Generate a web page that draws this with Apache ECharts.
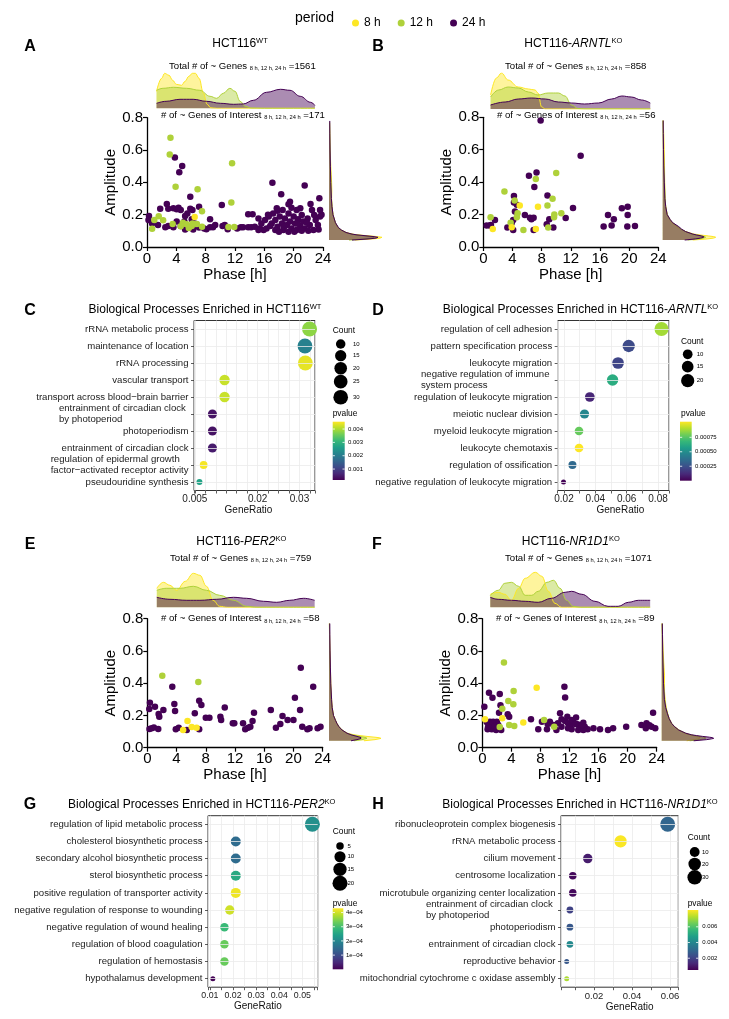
<!DOCTYPE html>
<html>
<head>
<meta charset="utf-8">
<title>Rhythmic genes in HCT116 clock knockouts</title>
<script src="https://cdn.jsdelivr.net/npm/echarts@6.0.0/dist/echarts.min.js"></script>
<style>
html,body{margin:0;padding:0;background:#fff;}
#chart{width:729px;height:1019px;}
</style>
</head>
<body>
<div id="chart"></div>
<script>
// ================= DATA =================
const periods = ['8 h', '12 h', '24 h'];

// ---- scatter points [phase (h), amplitude] ----
const ptsA8 = [[6.5,0.185]];
const ptsA12 = [[3.2,0.676],[3.1,0.573],[11.6,0.518],[3.9,0.373],[6.9,0.357],[11.5,0.276],[7.5,0.221],[1.0,0.167],[1.6,0.19],[2.2,0.165],[0.7,0.113],[3.5,0.142],[4.9,0.15],[5.4,0.14],[6.1,0.13],[6.2,0.146],[6.8,0.142],[7.5,0.126],[11.1,0.124],[11.9,0.124],[5.7,0.118],[4.6,0.128]];
const ptsA24 = [[3.8,0.553],[4.8,0.501],[4.4,0.462],[5.9,0.311],[17.1,0.398],[21.5,0.381],[18.3,0.326],[23.5,0.301],[10.2,0.26],[19.5,0.28],[19.3,0.264],[19.7,0.243],[20.9,0.239],[18.5,0.229],[17.8,0.225],[23.8,0.2],[1.8,0.237],[2.7,0.266],[2.9,0.237],[3.6,0.239],[4.05,0.233],[4.3,0.243],[4.6,0.229],[5.9,0.237],[6.2,0.229],[7.1,0.249],[5.5,0.208],[5.2,0.192],[0.27,0.192],[0.2,0.167],[0.7,0.146],[2.9,0.13],[2.5,0.122],[4.05,0.157],[5.1,0.157],[6.1,0.171],[6.5,0.146],[5.2,0.109],[6.3,0.109],[7.1,0.12],[7.8,0.115],[8.6,0.171],[8.6,0.122],[9.0,0.122],[9.3,0.136],[10.3,0.13],[10.6,0.136],[3.6,0.122],[4.6,0.13],[1.5,0.136],[13.1,0.122],[13.8,0.122],[14.2,0.122],[14.4,0.202],[13.8,0.202],[15.4,0.115],[15.2,0.177],[15.6,0.146],[16.1,0.167],[16.6,0.188],[17.0,0.146],[17.2,0.208],[17.5,0.167],[17.8,0.126],[18.1,0.188],[18.4,0.146],[18.6,0.105],[18.8,0.177],[19.1,0.136],[19.3,0.208],[19.5,0.157],[19.7,0.115],[20.0,0.188],[20.2,0.146],[20.4,0.105],[20.6,0.171],[20.9,0.13],[21.1,0.198],[21.3,0.157],[21.5,0.115],[21.9,0.177],[22.2,0.136],[22.5,0.229],[22.7,0.105],[23.0,0.167],[23.3,0.136],[23.6,0.188],[16.3,0.115],[15.9,0.105],[15.2,0.105],[14.7,0.126],[17.5,0.105],[18.0,0.095],[19.3,0.095],[20.1,0.095],[21.1,0.101],[22.0,0.101],[23.4,0.109],[16.8,0.13],[18.7,0.126],[20.5,0.146],[21.8,0.15],[22.8,0.198],[17.7,0.239],[20.4,0.229],[12.8,0.122],[12.3,0.115],[11.0,0.11],[8.1,0.11],[16.5,0.2],[22.3,0.266],[23.6,0.229]];

const ptsB8 = [[5.0,0.256],[7.5,0.249],[1.3,0.111],[3.9,0.122],[7.2,0.111]];
const ptsB12 = [[2.9,0.342],[7.2,0.42],[10.0,0.456],[4.3,0.287],[8.8,0.256],[9.5,0.297],[4.7,0.208],[4.6,0.183],[1.0,0.183],[3.75,0.15],[5.5,0.105],[9.7,0.183],[9.74,0.2],[10.7,0.208],[8.9,0.12]];
const ptsB24 = [[7.86,0.78],[13.35,0.563],[7.3,0.46],[6.26,0.44],[7.0,0.37],[8.8,0.317],[4.2,0.315],[4.2,0.274],[4.6,0.26],[4.34,0.219],[5.7,0.198],[6.4,0.181],[6.6,0.171],[6.9,0.181],[8.7,0.14],[9.05,0.171],[11.3,0.179],[12.3,0.241],[4.1,0.167],[3.9,0.15],[3.3,0.12],[4.1,0.105],[1.6,0.167],[1.05,0.136],[0.46,0.132],[0.9,0.132],[6.9,0.105],[9.6,0.12],[16.5,0.126],[17.1,0.198],[17.6,0.132],[17.9,0.171],[19.0,0.239],[19.8,0.249],[19.8,0.198],[19.75,0.126],[20.8,0.13]];

const ptsE8 = [[4.9,0.11],[5.5,0.165],[6.07,0.128],[6.75,0.124]];
const ptsE12 = [[2.05,0.446],[6.98,0.407]];
const ptsE24 = [[0.27,0.24],[0.36,0.279],[1.05,0.254],[1.55,0.209],[1.64,0.192],[2.2,0.234],[0.6,0.12],[0.9,0.126],[1.5,0.116],[0.3,0.116],[3.42,0.378],[3.7,0.271],[3.8,0.227],[3.9,0.114],[4.3,0.124],[5.4,0.11],[6.5,0.213],[7.1,0.291],[7.4,0.265],[7.1,0.114],[8.0,0.186],[8.5,0.186],[10.0,0.192],[10.1,0.172],[10.6,0.25],[11.7,0.151],[11.9,0.151],[13.1,0.151],[13.4,0.114],[13.8,0.124],[14.1,0.13],[14.4,0.165],[14.6,0.217],[16.9,0.234],[17.6,0.124],[18.2,0.147],[18.5,0.196],[19.2,0.172],[20.0,0.172],[20.2,0.31],[20.9,0.234],[21.0,0.496],[21.2,0.13],[21.9,0.114],[22.2,0.12],[22.7,0.378],[23.3,0.12],[23.7,0.13]];

const ptsF8 = [[7.48,0.372],[5.64,0.157],[0.37,0.176],[2.75,0.182]];
const ptsF12 = [[2.98,0.529],[3.58,0.289],[4.27,0.269],[4.31,0.351],[2.75,0.242],[3.7,0.141],[4.4,0.134],[2.4,0.128],[8.5,0.172],[9.9,0.13]];
const ptsF24 = [[0.28,0.254],[0.92,0.341],[1.4,0.31],[2.4,0.333],[2.5,0.263],[2.3,0.217],[3.5,0.207],[3.7,0.192],[0.73,0.114],[1.05,0.161],[1.5,0.161],[2.0,0.161],[1.3,0.114],[1.9,0.11],[2.6,0.11],[6.7,0.176],[8.2,0.161],[8.9,0.114],[9.3,0.161],[10.4,0.151],[10.7,0.213],[11.3,0.378],[11.4,0.312],[11.4,0.165],[11.8,0.151],[12.1,0.13],[12.5,0.161],[12.9,0.188],[13.1,0.145],[13.4,0.12],[13.9,0.155],[14.1,0.13],[14.5,0.114],[15.3,0.12],[16.2,0.114],[17.3,0.11],[18.0,0.12],[19.8,0.13],[21.9,0.141],[22.6,0.151],[22.5,0.12],[23.3,0.13],[23.5,0.217],[23.8,0.12],[10.9,0.13],[10.2,0.11],[11.8,0.12],[12.3,0.114],[13.2,0.11],[13.9,0.11],[9.8,0.141],[10.9,0.176],[11.7,0.192],[12.3,0.172],[12.8,0.147],[13.7,0.141],[9.0,0.147],[7.7,0.114],[2.2,0.141],[1.4,0.151],[0.8,0.13],[2.4,0.12],[1.7,0.134],[23.0,0.14],[0.6,0.16]];

// ---- top marginal densities (all genes) [phase, density] ----
const topA8 = [[1.3,17],[2,30],[2.4,35],[3,33],[3.5,28],[4,24],[4.7,23],[5.2,27],[5.7,32],[6.2,35],[6.6,35],[7.1,30],[7.7,15],[8.2,4],[8.7,0.5],[9.5,0],[12,0],[16,0],[20,0],[22.9,0]];
const topA12 = [[1.3,18],[2.2,20],[3.6,21],[5.4,20],[7.2,18],[8.6,12],[9.5,10],[10.4,15],[11.3,20],[12,17],[12.7,7],[13.4,2],[14.2,0.3],[16,0],[20,0],[22.9,0]];
const topA24 = [[1.3,5],[2.6,7],[4.5,9],[6.3,9],[8.1,7],[10,5],[11.8,4],[13.1,4.3],[14.5,8],[16.3,16],[18.2,19],[19.5,18],[20.9,12],[22.3,6],[22.9,3]];
const topB8 = [[1.0,14],[1.8,31],[2.5,36],[3.4,29],[4.8,22],[6.2,20],[7.1,19],[7.5,16],[8,2],[8.5,0],[12,0],[16,0],[20,0],[22.9,0]];
const topB12 = [[1.0,12],[2.1,19],[3.4,22],[4.8,21],[6.2,17],[7.5,14],[8.9,16],[10.3,16],[11.2,13],[12.1,4],[13,0.5],[14,0],[18,0],[22.9,0]];
const topB24 = [[1.0,4],[3,7],[4.8,10],[6.6,11],[8.5,10],[10.3,7],[12.1,6],[13.9,5],[15.8,6],[17.6,10],[19,13],[20.3,12],[21.7,9],[22.9,6]];
const topE8 = [[1.3,19],[2.2,25],[3.1,22],[4,17],[5.2,26],[6.3,34],[7.2,32],[8.1,21],[9,7],[9.9,1],[11,0],[16,0],[22.9,0]];
const topE12 = [[1.3,17],[2.6,19],[4.5,19],[6.3,21],[8.1,17],[9.9,12],[11.8,7],[13.6,1],[15,0],[20,0],[22.9,0]];
const topE24 = [[1.3,10],[3.1,8],[5.4,7],[7.2,7],[9.5,8],[11.8,10],[13.6,9],[15.9,6],[17.7,5],[19.5,7],[21.4,9],[22.9,7]];
const topF8 = [[1.1,13],[2.2,15],[3.1,13],[4,7],[5,19],[5.9,29],[7.3,35],[8.2,31],[9.1,16],[10,4],[10.9,0],[14,0],[20,0],[23.1,0]];
const topF12 = [[1.1,12],[2.2,17],[3.1,24],[4,25],[5,21],[5.9,12],[6.8,12],[7.7,16],[8.9,25],[9.8,27],[10.7,19],[11.6,7],[12.5,1],[13.5,0],[20,0],[23.1,0]];
const topF24 = [[1.1,10],[2.2,8],[4,7],[5.9,6],[7.7,5],[9.5,9],[11.4,15],[12.3,16],[13.7,13],[15.5,6],[17.3,1],[18.7,1],[20.1,5],[21.5,7],[23.1,7]];

// ---- right marginal densities [amplitude, density] ----
const sideA8 = [[0.043,26],[0.05,44],[0.055,51],[0.06,53],[0.065,47],[0.07,38],[0.075,29],[0.08,23],[0.09,17],[0.105,12],[0.12,9],[0.15,6],[0.2,4],[0.25,3],[0.3,2.6],[0.35,2.8],[0.4,2.6],[0.45,2.2],[0.5,1.8],[0.6,1.1],[0.7,0.8],[0.77,0.6]];
const sideA12 = [[0.043,20],[0.05,36],[0.055,43],[0.06,45],[0.065,41],[0.07,34],[0.075,27],[0.08,22],[0.09,17],[0.105,12],[0.12,9],[0.15,6.5],[0.2,4],[0.25,3],[0.3,2.4],[0.4,1.9],[0.5,1.4],[0.6,1.1],[0.7,0.8],[0.77,0.6]];
const sideA24 = [[0.043,23],[0.05,40],[0.055,47],[0.06,49],[0.065,44],[0.07,36],[0.075,28],[0.08,23],[0.09,17],[0.105,12.5],[0.12,9.5],[0.15,6.5],[0.2,4],[0.25,3],[0.3,2.4],[0.4,1.8],[0.5,1.4],[0.6,1.1],[0.7,0.9],[0.78,0.8]];
const sideB8 = [[0.043,30],[0.05,45],[0.055,51],[0.06,53],[0.064,51],[0.068,46],[0.074,38],[0.08,31],[0.095,23],[0.11,18],[0.126,14],[0.15,9],[0.17,7],[0.2,4.5],[0.25,3],[0.3,2.3],[0.4,2],[0.5,1.8],[0.6,1.5],[0.7,1],[0.78,0.5]];
const sideB12 = [[0.043,25],[0.05,37],[0.055,41],[0.06,43],[0.064,42],[0.068,39],[0.074,34],[0.08,29],[0.095,23],[0.11,18],[0.126,15],[0.15,10],[0.17,7],[0.2,4.5],[0.25,3],[0.3,2.4],[0.4,1.8],[0.5,1.1],[0.6,0.8],[0.7,0.5],[0.78,0.3]];
const sideB24 = [[0.043,22],[0.05,33],[0.055,38],[0.06,41],[0.064,41],[0.068,39],[0.074,34],[0.08,30],[0.095,23],[0.11,19],[0.126,16],[0.15,10],[0.17,7.5],[0.2,4.5],[0.25,3],[0.3,2.2],[0.4,1.6],[0.5,1.1],[0.6,0.8],[0.7,0.6],[0.78,0.5]];
const sideE8 = [[0.043,35],[0.05,46],[0.055,50],[0.058,52],[0.062,50],[0.065,46],[0.07,38],[0.075,31],[0.08,25],[0.09,18],[0.11,13],[0.13,10],[0.15,8],[0.17,6.5],[0.2,4.5],[0.25,3.2],[0.3,2.6],[0.35,2.2],[0.4,1.8],[0.5,1.4],[0.6,1],[0.7,0.6],[0.77,0.4]];
const sideE12 = [[0.043,25],[0.05,33],[0.055,36],[0.058,38],[0.062,37],[0.065,35],[0.07,31],[0.075,27],[0.08,23],[0.09,18],[0.11,13],[0.13,10],[0.15,8],[0.17,6.5],[0.2,4.5],[0.25,3],[0.3,2.2],[0.4,1.4],[0.5,1],[0.6,0.7],[0.77,0.4]];
const sideE24 = [[0.043,22],[0.05,28],[0.055,31],[0.058,32],[0.062,32],[0.065,31],[0.07,28],[0.075,25],[0.08,22],[0.09,18],[0.11,13],[0.13,10],[0.15,8],[0.17,6.5],[0.2,4.5],[0.25,3.2],[0.3,2.6],[0.4,1.8],[0.5,1.4],[0.6,1.1],[0.7,0.9],[0.77,0.8]];
const sideF8 = [[0.043,25],[0.05,33],[0.055,36],[0.058,38],[0.062,38.5],[0.065,37],[0.07,34],[0.075,31],[0.08,28],[0.09,23],[0.11,17],[0.13,13],[0.15,10],[0.18,7.5],[0.21,6],[0.25,4.5],[0.3,3.4],[0.35,2.8],[0.4,2.8],[0.45,2.8],[0.5,2.3],[0.6,1.4],[0.7,0.8],[0.77,0.5]];
const sideF12 = [[0.043,28],[0.05,38],[0.055,42],[0.058,44],[0.062,44],[0.065,42],[0.07,37],[0.075,33],[0.08,29],[0.09,24],[0.11,17],[0.13,13],[0.15,10],[0.18,7.5],[0.21,6],[0.25,4.2],[0.3,3],[0.4,1.9],[0.5,1.4],[0.6,1],[0.77,0.5]];
const sideF24 = [[0.043,32],[0.05,45],[0.055,50],[0.058,52],[0.062,51],[0.065,48],[0.07,41],[0.075,35],[0.08,30],[0.09,24],[0.11,17],[0.13,13],[0.15,10],[0.18,7.5],[0.21,5.8],[0.25,4],[0.3,2.7],[0.4,1.8],[0.5,1.4],[0.6,1],[0.7,0.8],[0.77,0.6]];

// ---- GO enrichment dot plots ----
const catsC = ['rRNA metabolic process','maintenance of location','rRNA processing','vascular transport','transport across blood\u2212brain barrier','entrainment of circadian clock \nby photoperiod','photoperiodism','entrainment of circadian clock','regulation of epidermal growth \nfactor\u2212activated receptor activity','pseudouridine synthesis'];
const ratioC = [0.0324,0.0313,0.0314,0.0121,0.0121,0.0092,0.0092,0.0092,0.0071,0.0061];
const countC = [32,31,31,12,12,9,9,9,7,6];
const pvalC = [0.0038,0.0021,0.0044,0.0042,0.0042,0.0004,0.0004,0.0005,0.0045,0.0027];
const xTicksC = [0.005,0.02,0.03];
const countLegC = [10,15,20,25,30];
const pTicksC = [0.001,0.002,0.003,0.004];
const pLabelsC = ['0.001','0.002','0.003','0.004'];

const catsD = ['regulation of cell adhesion','pattern specification process','leukocyte migration','negative regulation of immune \nsystem process','regulation of leukocyte migration','meiotic nuclear division','myeloid leukocyte migration','leukocyte chemotaxis','regulation of ossification','negative regulation of leukocyte migration'];
const ratioD = [0.0822,0.0613,0.0545,0.051,0.0365,0.0331,0.0296,0.0296,0.0254,0.0197];
const countD = [23,17,15,14,10,9,8,8,7,5];
const pvalD = [0.00088,0.00023,0.00021,0.00063,0.00011,0.00047,0.00078,0.00102,0.00035,0.00001];
const xTicksD = [0.02,0.04,0.06,0.08];
const countLegD = [10,15,20];
const pTicksD = [0.00025,0.0005,0.00075];
const pLabelsD = ['0.00025','0.00050','0.00075'];

const catsG = ['regulation of lipid metabolic process','cholesterol biosynthetic process','secondary alcohol biosynthetic process','sterol biosynthetic process','positive regulation of transporter activity','negative regulation of response to wounding','negative regulation of wound healing','regulation of blood coagulation','regulation of hemostasis','hypothalamus development'];
const ratioG = [0.0543,0.0212,0.0212,0.0212,0.0212,0.0186,0.0163,0.0163,0.0163,0.0113];
const countG = [20,8,8,8,8,7,6,6,6,4];
const pvalG = [0.000215,0.00015,0.00015,0.00026,0.00042,0.0004,0.00029,0.00033,0.00033,0.000002];
const xTicksG = [0.01,0.02,0.03,0.04,0.05];
const countLegG = [5,10,15,20];
const pTicksG = [0.0001,0.0002,0.0003,0.0004];
const pLabelsG = ['1e\u221204','2e\u221204','3e\u221204','4e\u221204'];

const catsH = ['ribonucleoprotein complex biogenesis','rRNA metabolic process','cilium movement','centrosome localization','microtubule organizing center localization','entrainment of circadian clock \nby photoperiod','photoperiodism','entrainment of circadian clock','reproductive behavior','mitochondrial cytochrome c oxidase assembly'];
const ratioH = [0.0588,0.034,0.0167,0.0088,0.0088,0.0073,0.0073,0.0073,0.0056,0.0056];
const countH = [33,19,9,5,5,4,4,4,3,3];
const pvalH = [0.003,0.0081,0.0011,0.0007,0.0007,0.002,0.0026,0.0041,0.0026,0.0072];
const xTicksH = [0.02,0.04,0.06];
const countLegH = [10,20,30];
const pTicksH = [0.002,0.004,0.006];
const pLabelsH = ['0.002','0.004','0.006'];

// ================= STYLE / LAYOUT =================
const FONT = '"Liberation Sans", Arial, Helvetica, sans-serif';
const PCOL = ['#FDE725', '#AFD13A', '#440154'];
const FILL_A = 0.45;
const VIRIDIS = ['#440154','#482878','#3E4A89','#31688E','#26828E','#1F9E89','#35B779','#6DCD59','#B4DE2C','#FDE725'];
function rgba(hex, a){ const n=parseInt(hex.slice(1),16); return 'rgba('+(n>>16&255)+','+(n>>8&255)+','+(n&255)+','+a+')'; }

const SC = [
  {pts:[ptsA8,ptsA12,ptsA24], top:[topA8,topA12,topA24], side:[sideA8,sideA12,sideA24], L:147, T:117.7, W:176, H:129.3, DT:72.3, SL:329},
  {pts:[ptsB8,ptsB12,ptsB24], top:[topB8,topB12,topB24], side:[sideB8,sideB12,sideB24], L:483.3, T:117.3, W:175, H:129.7, DT:73, SL:662.7},
  {pts:[ptsE8,ptsE12,ptsE24], top:[topE8,topE12,topE24], side:[sideE8,sideE12,sideE24], L:147.3, T:618.7, W:175.4, H:129, DT:571.3, SL:329},
  {pts:[ptsF8,ptsF12,ptsF24], top:[topF8,topF12,topF24], side:[sideF8,sideF12,sideF24], L:482.3, T:618.7, W:174.4, H:129, DT:571.3, SL:661.7}
];

function sizeScale(cmin, cmax, dmin, dmax){ return c => dmin + (dmax-dmin)*Math.sqrt(Math.max(0,(c-cmin))/(cmax-cmin)); }

const DP = [
  {cats:catsC, ratio:ratioC, count:countC, p:pvalC, ticks:xTicksC, countLeg:countLegC, pTicks:pTicksC, pLabels:pLabelsC,
   L:194, T:320.5, W:121, H:170, xmin:0.0048, xmax:0.0337, step:0.0025, fs:10, nameGap:14.5, namePad:[0,12,0,0],
   size:sizeScale(6,32,6,15), pmin:0.00018, pmax:0.00455,
   leg:{x:332.7, countY:330.7, cx:340.7, cys:[344,355.7,368.3,381.7,397.3], lx:353, pY:414, bx:332.7, by:421.7, bw:12, bh:58.3, lx2:348}},
  {cats:catsD, ratio:ratioD, count:countD, p:pvalD, ticks:xTicksD, countLeg:countLegD, pTicks:pTicksD, pLabels:pLabelsD,
   L:557.7, T:320.5, W:111.3, H:170, xmin:0.016, xmax:0.087, step:0.01, fs:10, nameGap:14.5, namePad:[0,0,0,14],
   size:sizeScale(5,23,5,14), pmin:0, pmax:0.00102,
   leg:{x:681, countY:341.7, cx:687.7, cys:[354.3,366.7,380.7], lx:696.7, pY:414, bx:680, by:421.7, bw:11.7, bh:59, lx2:695}},
  {cats:catsG, ratio:ratioG, count:countG, p:pvalG, ticks:xTicksG, countLeg:countLegG, pTicks:pTicksG, pLabels:pLabelsG,
   L:208, T:815.7, W:109.7, H:171.5, xmin:0.0092, xmax:0.0566, step:0.005, fs:8.8, nameGap:12.8, namePad:[0,10,0,0],
   size:sizeScale(4,20,5,15), pmin:0, pmax:0.00043,
   leg:{x:332.7, countY:831.7, cx:340, cys:[846,856.7,869.3,883.3], lx:347.5, pY:903.3, bx:332.7, by:908.3, bw:10.6, bh:61, lx2:346}},
  {cats:catsH, ratio:ratioH, count:countH, p:pvalH, ticks:xTicksH, countLeg:countLegH, pTicks:pTicksH, pLabels:pLabelsH,
   L:561, T:815.7, W:117.3, H:171.5, xmin:0.0026, xmax:0.0644, step:0.01, fs:9.5, nameGap:12.8, namePad:[0,0,0,20],
   size:sizeScale(3,33,5,15), pmin:0.0005, pmax:0.00814,
   leg:{x:687.7, countY:837.7, cx:694.7, cys:[852,864,877.3], lx:702, pY:903.3, bx:687.7, by:910, bw:10.6, bh:60, lx2:702.3}}
];

// ================= BUILD =================
const grids=[], xAxes=[], yAxes=[], series=[], visualMaps=[], G=[];

function sideSeries(arr, color, gi){
  return {type:'custom', xAxisIndex:gi, yAxisIndex:gi, silent:true, z:2,
    data: arr.map(d=>[d[1], d[0]]),
    renderItem: function(params, api){
      if (params.dataIndex !== 0) return null;
      const pts = arr.map(d=>api.coord([d[1], d[0]]));
      const b0 = api.coord([0, arr[0][0]]), b1 = api.coord([0, arr[arr.length-1][0]]);
      return {type:'group', children:[
        {type:'polygon', shape:{points:[b0].concat(pts,[b1])}, style:{fill:rgba(color,FILL_A), stroke:null}},
        {type:'polyline', shape:{points:pts}, style:{stroke:color, lineWidth:1, fill:null, lineJoin:'round'}}
      ]};
    }};
}

SC.forEach(p=>{
  const gS = grids.length;
  grids.push({left:p.L, top:p.T, width:p.W, height:p.H});
  xAxes.push({gridIndex:gS, type:'value', min:0, max:24, interval:4,
    axisLine:{onZero:false, lineStyle:{color:'#000', width:1.3}},
    axisTick:{length:4, lineStyle:{color:'#000', width:1.2}},
    axisLabel:{fontSize:15, color:'#000', margin:4, fontFamily:FONT},
    splitLine:{show:false},
    name:'Phase [h]', nameLocation:'middle', nameGap:20, nameTextStyle:{fontSize:15, color:'#000', fontFamily:FONT}});
  yAxes.push({gridIndex:gS, type:'value', min:0, max:0.8, interval:0.2,
    axisLine:{show:true, onZero:false, lineStyle:{color:'#000', width:1.3}},
    axisTick:{show:true, length:4, lineStyle:{color:'#000', width:1.2}},
    axisLabel:{fontSize:15, color:'#000', margin:4, fontFamily:FONT, formatter:v=>v.toFixed(1)},
    splitLine:{show:false},
    name:'Amplitude', nameLocation:'middle', nameGap:28, nameTextStyle:{fontSize:15, color:'#000', fontFamily:FONT}});

  const gT = grids.length;
  grids.push({left:p.L, top:p.DT, width:p.W, height:36});
  xAxes.push({gridIndex:gT, type:'value', min:0, max:24, show:false});
  yAxes.push({gridIndex:gT, type:'value', min:0, max:36, show:false});

  const gR = grids.length;
  grids.push({left:p.SL, top:p.T, width:55, height:p.H});
  xAxes.push({gridIndex:gR, type:'value', min:0, max:55, show:false});
  yAxes.push({gridIndex:gR, type:'value', min:0, max:0.8, show:false});

  [0,1,2].forEach(k=>{
    series.push({type:'line', xAxisIndex:gT, yAxisIndex:gT, data:p.top[k], smooth:0.4, smoothMonotone:'x',
      symbol:'none', showSymbol:false, silent:true, z:2,
      lineStyle:{color:PCOL[k], width:1}, itemStyle:{color:PCOL[k]},
      areaStyle:{color:rgba(PCOL[k],FILL_A), opacity:1}});
  });
  [0,1,2].forEach(k=>{ series.push(sideSeries(p.side[k], PCOL[k], gR)); });
  [2,1,0].forEach(k=>{
    series.push({type:'scatter', name:periods[k], xAxisIndex:gS, yAxisIndex:gS, data:p.pts[k],
      symbolSize:6.5, itemStyle:{color:PCOL[k], opacity:1}, z:3, clip:false});
  });
});

function wrapRich(v){
  if (v.indexOf('\n') < 0) return v;
  return v.split('\n').map(s=>'{l|'+s+'}').join('\n');
}

function T(x, y, text, o){
  return {type:'text', x:x, y:y, silent:true, z:100,
    style:Object.assign({text:text, fill:'#000', fontSize:12, fontFamily:FONT, align:'left', verticalAlign:'middle'}, o||{})};
}

DP.forEach(d=>{
  const g = grids.length;
  grids.push({left:d.L, top:d.T, width:d.W, height:d.H, show:true, borderColor:'#333', borderWidth:1, backgroundColor:'transparent'});
  xAxes.push({gridIndex:g, type:'value', min:d.xmin, max:d.xmax, minInterval:d.step, maxInterval:d.step, splitNumber:10,
    axisLine:{show:false},
    axisTick:{show:true, length:3, lineStyle:{color:'#333', width:0.8}},
    axisLabel:{fontSize:d.fs, color:'#222', margin:4, fontFamily:FONT, showMinLabel:true, showMaxLabel:true,
      formatter: v=>{ const t=d.ticks.find(t=>Math.abs(t-v)<1e-9); return t===undefined ? '' : String(t); }},
    splitLine:{show:true, lineStyle:{color:'#EBEBEB', width:0.8}},
    name:'GeneRatio', nameLocation:'middle', nameGap:d.nameGap,
    nameTextStyle:{fontSize:10, color:'#111', fontFamily:FONT, padding:d.namePad}});
  yAxes.push({gridIndex:g, type:'category', data:d.cats, inverse:true,
    axisLine:{show:false},
    axisTick:{show:true, alignWithLabel:true, length:3, lineStyle:{color:'#333', width:0.8}},
    axisLabel:{interval:0, margin:5.5, fontSize:9.6, color:'#222', fontFamily:FONT, lineHeight:11.5,
      formatter:wrapRich, rich:{l:{align:'left', fontSize:9.6, color:'#222', fontFamily:FONT, lineHeight:11.5}}},
    splitLine:{show:false}});
  series.push({type:'scatter', xAxisIndex:g, yAxisIndex:g, data:[], silent:true, z:1,
    markLine:{silent:true, symbol:['none','none'], animation:false, label:{show:false},
      lineStyle:{color:'#EBEBEB', type:'solid', width:0.8},
      data:d.cats.map(c=>({yAxis:c}))}});
  const si = series.length;
  series.push({type:'scatter', xAxisIndex:g, yAxisIndex:g, z:3,
    data:d.cats.map((c,j)=>[d.ratio[j], c, d.p[j], d.count[j]]),
    encode:{x:0, y:1},
    symbolSize: v=>d.size(v[3]),
    itemStyle:{opacity:1}});
  visualMaps.push({type:'continuous', show:false, seriesIndex:si, dimension:2, min:d.pmin, max:d.pmax, inRange:{color:VIRIDIS}});

  const lg = d.leg;
  G.push(T(lg.x, lg.countY, 'Count', {fontSize:8.4}));
  d.countLeg.forEach((c,j)=>{
    G.push({type:'circle', silent:true, z:100, shape:{cx:lg.cx, cy:lg.cys[j], r:d.size(c)/2}, style:{fill:'#000'}});
    G.push(T(lg.lx, lg.cys[j], String(c), {fontSize:6}));
  });
  G.push(T(lg.x, lg.pY, 'pvalue', {fontSize:8.4}));
  G.push({type:'rect', silent:true, z:100, shape:{x:lg.bx, y:lg.by, width:lg.bw, height:lg.bh},
    style:{fill:{type:'linear', x:0, y:1, x2:0, y2:0, colorStops:VIRIDIS.map((c,k)=>({offset:k/(VIRIDIS.length-1), color:c}))}}});
  d.pTicks.forEach((v,j)=>{
    const y = lg.by + lg.bh*(1-(v-d.pmin)/(d.pmax-d.pmin));
    G.push({type:'line', silent:true, z:101, shape:{x1:lg.bx, y1:y, x2:lg.bx+2.2, y2:y}, style:{stroke:'#fff', lineWidth:0.8}});
    G.push({type:'line', silent:true, z:101, shape:{x1:lg.bx+lg.bw-2.2, y1:y, x2:lg.bx+lg.bw, y2:y}, style:{stroke:'#fff', lineWidth:0.8}});
    G.push(T(lg.lx2, y, d.pLabels[j], {fontSize:6}));
  });
});

// titles & annotations
const RT = {
  a:{fontSize:12, fontFamily:FONT, fill:'#000', lineHeight:14, verticalAlign:'middle'},
  i:{fontSize:12, fontFamily:FONT, fill:'#000', lineHeight:14, verticalAlign:'middle', fontStyle:'italic'},
  s:{fontSize:7.5, fontFamily:FONT, fill:'#000', lineHeight:9, verticalAlign:'top'}
};
const RG = {
  a:{fontSize:9.6, fontFamily:FONT, fill:'#000', lineHeight:11, verticalAlign:'middle'},
  s:{fontSize:5.7, fontFamily:FONT, fill:'#000', lineHeight:7, verticalAlign:'bottom'}
};
const SUBTXT = '8 h, 12 h, 24 h';
[['A',30,47],['B',378,47],['C',30,311],['D',378,311],['E',30,545],['F',377,545],['G',30,805],['H',378,805]].forEach(l=>{
  G.push(T(l[1], l[2], l[0], {fontSize:16, fontWeight:'bold', align:'center'}));
});
G.push(T(240, 44, '{a|HCT116}{s|WT}', {align:'center', rich:RT}));
G.push(T(573.3, 44, '{a|HCT116-}{i|ARNTL}{s|KO}', {align:'center', rich:RT}));
G.push(T(241.3, 541.7, '{a|HCT116-}{i|PER2}{s|KO}', {align:'center', rich:RT}));
G.push(T(570.8, 541.7, '{a|HCT116-}{i|NR1D1}{s|KO}', {align:'center', rich:RT}));

G.push(T(169, 66, '{a|Total # of ~ Genes }{s|'+SUBTXT+'}{a| =1561}', {rich:RG}));
G.push(T(505, 66, '{a|Total # of ~ Genes }{s|'+SUBTXT+'}{a| =858}', {rich:RG}));
G.push(T(170, 558.3, '{a|Total # of ~ Genes }{s|'+SUBTXT+'}{a| =759}', {rich:RG}));
G.push(T(505, 558.3, '{a|Total # of ~ Genes }{s|'+SUBTXT+'}{a| =1071}', {rich:RG}));
G.push(T(161, 115, '{a|# of ~ Genes of Interest }{s|'+SUBTXT+'}{a| =171}', {rich:RG}));
G.push(T(497, 115, '{a|# of ~ Genes of Interest }{s|'+SUBTXT+'}{a| =56}', {rich:RG}));
G.push(T(161, 618.7, '{a|# of ~ Genes of Interest }{s|'+SUBTXT+'}{a| =58}', {rich:RG}));
G.push(T(496, 618.7, '{a|# of ~ Genes of Interest }{s|'+SUBTXT+'}{a| =89}', {rich:RG}));

G.push(T(205, 310, '{a|Biological Processes Enriched in HCT116}{s|WT}', {align:'center', rich:RT}));
G.push(T(580.5, 310, '{a|Biological Processes Enriched in HCT116-}{i|ARNTL}{s|KO}', {align:'center', rich:RT}));
G.push(T(201.7, 805, '{a|Biological Processes Enriched in HCT116-}{i|PER2}{s|KO}', {align:'center', rich:RT}));
G.push(T(580, 805, '{a|Biological Processes Enriched in HCT116-}{i|NR1D1}{s|KO}', {align:'center', rich:RT}));

G.push(T(295, 18, 'period', {fontSize:14}));

const option = {
  animation:false,
  backgroundColor:'#fff',
  textStyle:{fontFamily:FONT},
  legend:{data:periods.map(n=>({name:n, icon:'circle'})), left:347, top:12, itemWidth:7, itemHeight:7, itemGap:17,
    selectedMode:false, textStyle:{fontSize:12, color:'#000', fontFamily:FONT}},
  grid:grids, xAxis:xAxes, yAxis:yAxes, series:series, visualMap:visualMaps, graphic:G
};
const chart = echarts.init(document.getElementById('chart'), null, {renderer:'canvas'});
chart.setOption(option);
</script>
</body>
</html>
